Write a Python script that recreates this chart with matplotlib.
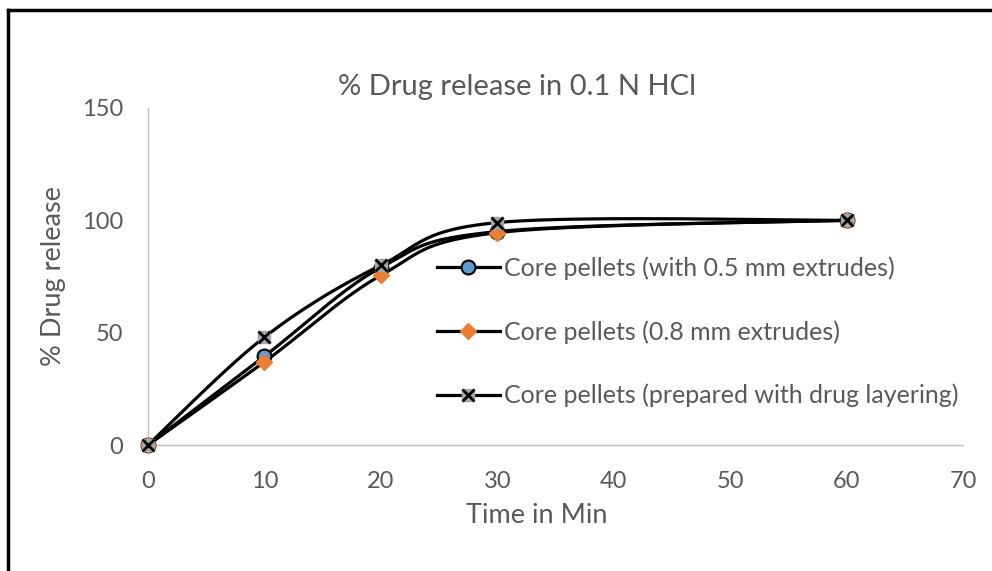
import numpy as np
import matplotlib
matplotlib.use("Agg")
from matplotlib import pyplot as plt
from matplotlib.lines import Line2D
from matplotlib.legend_handler import HandlerTuple

time_min = [0, 10, 20, 30, 60]
rel_05mm = [0, 39.5, 79, 95, 100]
rel_08mm = [0, 37, 75.5, 94.5, 100]
rel_layer = [0, 48, 80, 99, 100]
labels = ["Core pellets (with 0.5 mm extrudes)",
          "Core pellets (0.8 mm extrudes)",
          "Core pellets (prepared with drug layering)"]

plt.rcParams['font.family'] = ['Lato', 'DejaVu Sans']
grey_txt = '#595959'


def smooth(x, y, n=40):
    # excel style smoothed line: cubic bezier with catmull-rom control points
    x = np.asarray(x, float)
    y = np.asarray(y, float)
    px = np.concatenate([[x[0]], x, [x[-1]]])
    py = np.concatenate([[y[0]], y, [y[-1]]])
    xs, ys = [], []
    t = np.linspace(0, 1, n)
    for i in range(1, len(x)):
        p0 = np.array([px[i], py[i]])
        p3 = np.array([px[i + 1], py[i + 1]])
        p1 = p0 + (p3 - np.array([px[i - 1], py[i - 1]])) / 6
        p2 = p3 - (np.array([px[i + 2], py[i + 2]]) - p0) / 6
        b = ((1 - t) ** 3)[:, None] * p0 + (3 * (1 - t) ** 2 * t)[:, None] * p1 \
            + (3 * (1 - t) * t ** 2)[:, None] * p2 + (t ** 3)[:, None] * p3
        xs.extend(b[:, 0])
        ys.extend(b[:, 1])
    return xs, ys


fig = plt.figure(figsize=(9.92, 5.71), dpi=100)
ax = fig.add_axes([148 / 992, 1 - 445 / 571, (963 - 148) / 992, (445 - 108) / 571])

lw = 2.3
sx, sy = smooth(time_min, rel_05mm)
ax.plot(sx, sy, color='black', lw=lw, zorder=2, clip_on=False)
ax.plot(time_min, rel_05mm, ls='none', marker='o', ms=10, mfc='#5B9BD5',
        mec='black', mew=1.5, zorder=3, clip_on=False)
sx, sy = smooth(time_min, rel_08mm)
ax.plot(sx, sy, color='black', lw=lw, zorder=2, clip_on=False)
ax.plot(time_min, rel_08mm, ls='none', marker='D', ms=8.5, mfc='#ED7D31',
        mec='#ED7D31', zorder=3, clip_on=False)
sx, sy = smooth(time_min, rel_layer)
ax.plot(sx, sy, color='black', lw=lw, zorder=4, clip_on=False)
ax.plot(time_min, rel_layer, ls='none', marker='s', ms=9, mfc='#A5A5A5',
        mec='#A5A5A5', zorder=5, clip_on=False)
ax.plot(time_min, rel_layer, ls='none', marker='x', ms=9, mec='black',
        mew=2, zorder=6, clip_on=False)

ax.set_xlim(0, 70)
ax.set_ylim(0, 150)
ax.set_xticks(range(0, 71, 10))
ax.set_yticks([0, 50, 100, 150])
ax.tick_params(length=0, labelsize=17, colors=grey_txt)
ax.tick_params(axis='x', pad=19)
ax.tick_params(axis='y', pad=18)
for s in ['top', 'right']:
    ax.spines[s].set_visible(False)
for s in ['left', 'bottom']:
    ax.spines[s].set_color('#BFBFBF')
    ax.spines[s].set_linewidth(1)
ax.set_xlabel('Time in Min', fontsize=19.5, color=grey_txt)
ax.xaxis.set_label_coords((537 - 148) / (963 - 148), -(503 - 445) / 337)
ax.set_ylabel('% Drug release', fontsize=19.5, color=grey_txt)
ax.yaxis.set_label_coords(-(148 - 66) / 815, 0.5)
fig.text(517 / 992, 1 - 87 / 571, '% Drug release in 0.1 N HCl', fontsize=21,
         color=grey_txt, ha='center', va='center')

h1 = Line2D([], [], color='black', lw=lw, marker='o', ms=10, mfc='#5B9BD5',
            mec='black', mew=1.5)
h2 = Line2D([], [], color='black', lw=lw, marker='D', ms=8.5, mfc='#ED7D31',
            mec='#ED7D31')
h3a = Line2D([], [], color='black', lw=lw, marker='s', ms=9, mfc='#A5A5A5',
             mec='#A5A5A5')
h3b = Line2D([], [], ls='none', marker='x', ms=9, mec='black', mew=2)
leg = fig.legend([h1, h2, (h3a, h3b)], labels, loc='center left',
                 bbox_to_anchor=(437 / 992, 1 - 332 / 571), frameon=False,
                 fontsize=18, labelcolor=grey_txt, handlelength=2.5,
                 handletextpad=0.2, labelspacing=1.6, borderpad=0,
                 borderaxespad=0,
                 handler_map={tuple: HandlerTuple(ndivide=1)})

# outer frame (only top and left edges show in the picture)
fig.add_artist(Line2D([8 / 992, 1], [1 - 10 / 571, 1 - 10 / 571],
                      transform=fig.transFigure, color='black', lw=2.5))
fig.add_artist(Line2D([8 / 992, 8 / 992], [0, 1 - 10 / 571],
                      transform=fig.transFigure, color='black', lw=2.5))

fig.savefig('out.png', dpi=100)
